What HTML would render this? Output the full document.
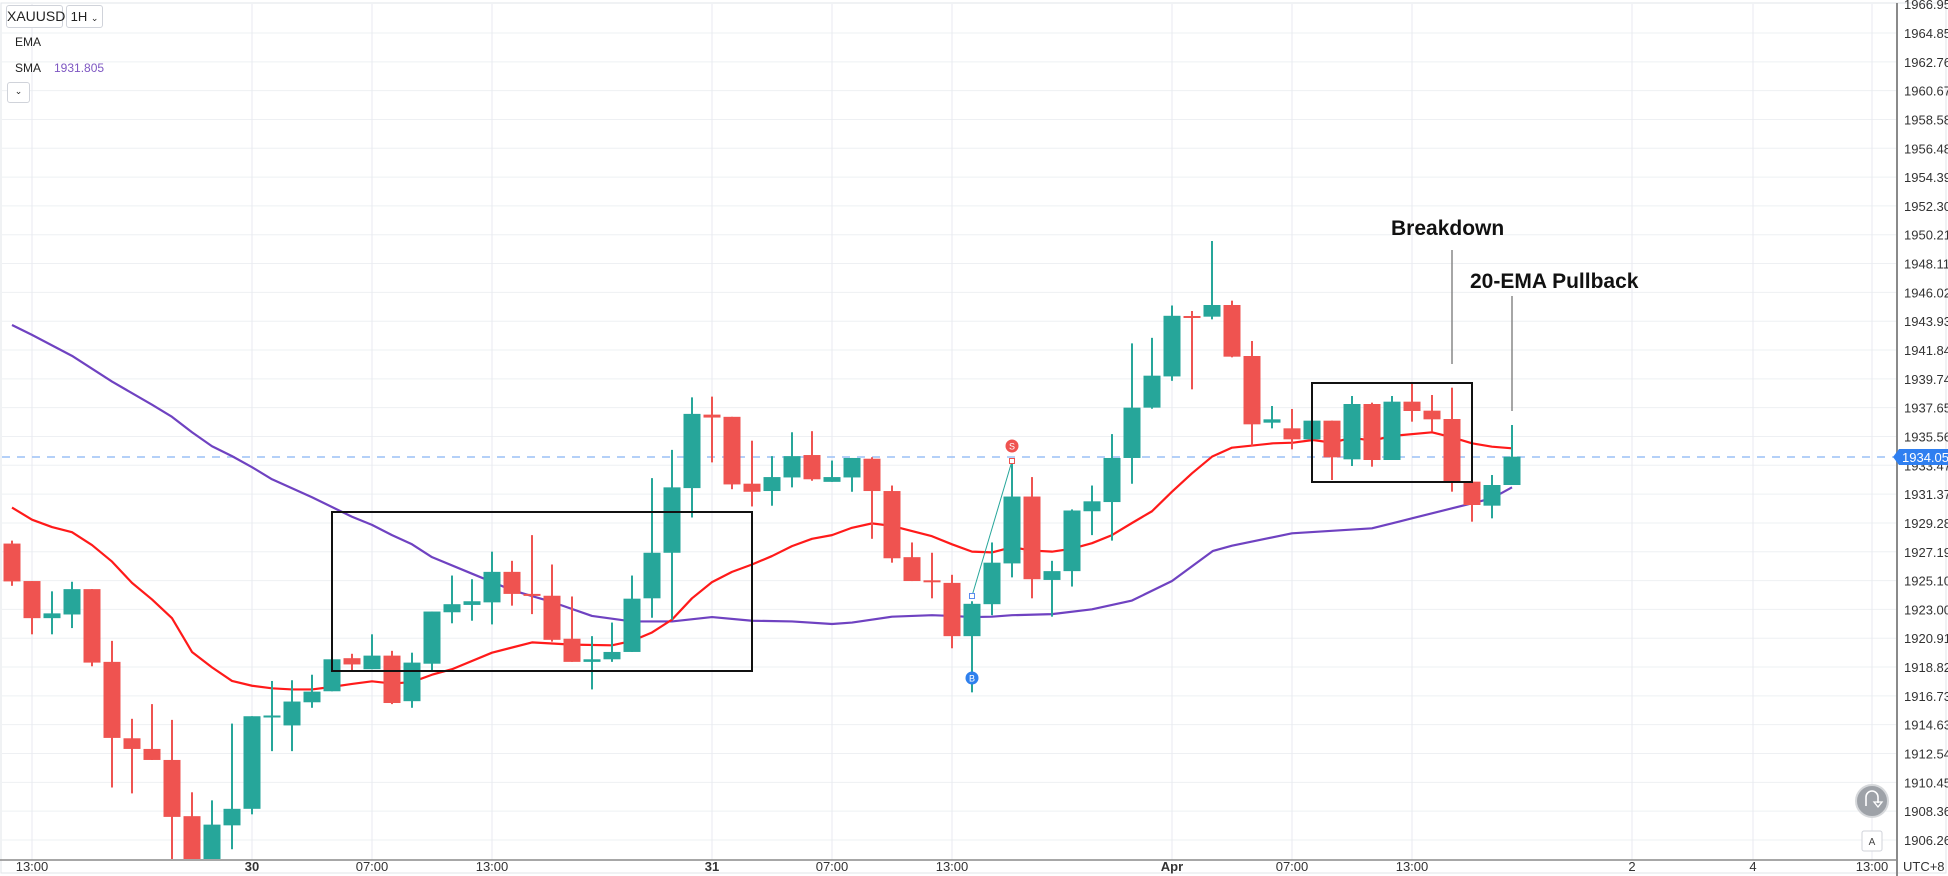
<!DOCTYPE html>
<html><head><meta charset="utf-8">
<style>
html,body{margin:0;padding:0;background:#fff;}
body{width:1948px;height:876px;overflow:hidden;position:relative;font-family:"Liberation Sans",Arial,sans-serif;}
svg{position:absolute;left:0;top:0;}
.tb{position:absolute;border:1px solid #d0d3da;border-radius:3px;background:#fff;font-size:13px;color:#222;box-sizing:border-box;}
</style></head>
<body>
<svg id="c" width="1948" height="876" xmlns="http://www.w3.org/2000/svg"></svg>
<div class="tb" style="left:6px;top:5px;width:57px;height:23px;line-height:21px;text-align:center;font-size:14px;">XAUUSD</div>
<div class="tb" style="left:66px;top:5px;width:37px;height:23px;line-height:21px;text-align:center;">1H <span style="font-size:9px">&#8964;</span></div>
<div style="position:absolute;left:15px;top:35px;font-size:12px;color:#222;">EMA</div>
<div style="position:absolute;left:15px;top:61px;font-size:12px;color:#222;">SMA</div>
<div style="position:absolute;left:54px;top:61px;font-size:12px;color:#7e57c2;">1931.805</div>
<div class="tb" style="left:7px;top:82px;width:23px;height:21px;line-height:17px;text-align:center;font-size:9px;">&#8964;</div>
<script>
const svg=document.getElementById('c');
let s='';
const f=1/2.722;
// grid
s+='<rect x="1" y="3" width="1945" height="870" fill="none" stroke="#e2e4ea"/>';
const labels=["1966.950","1964.857","1962.765","1960.672","1958.580","1956.487","1954.395","1952.302","1950.210","1948.117","1946.025","1943.932","1941.840","1939.747","1937.655","1935.562","1933.470","1931.377","1929.285","1927.192","1925.100","1923.007","1920.915","1918.822","1916.730","1914.637","1912.545","1910.452","1908.360","1906.267"];
for(let k=0;k<labels.length;k++){
 const y=33+(k-1)*28.82;
 if(y>6) s+=`<line x1="2" x2="1897" y1="${y}" y2="${y}" stroke="#eef0f3" stroke-width="1"/>`;
 s+=`<text x="1904" y="${y+5}" font-size="13" fill="#333">${labels[k]}</text>`;
}
const vx=[[32,"13:00",0],[252,"30",1],[372,"07:00",0],[492,"13:00",0],[712,"31",1],[832,"07:00",0],[952,"13:00",0],[1172,"Apr",1],[1292,"07:00",0],[1412,"13:00",0],[1632,"2",0],[1753,"4",0],[1872,"13:00",0]];
for(const [x,t,b] of vx){
 s+=`<line x1="${x}" x2="${x}" y1="4" y2="860" stroke="#e8eaf0" stroke-width="1"/>`;
 s+=`<text x="${x}" y="871" font-size="13" text-anchor="middle" fill="#333" ${b?'font-weight="bold"':''}>${t}</text>`;
}
// price line
s+='<line x1="2" x2="1897" y1="457" y2="457" stroke="#9cc0f5" stroke-width="1.5" stroke-dasharray="8,7"/>';
s+='<defs><clipPath id="cp"><rect x="0" y="4" width="1896" height="855"/></clipPath></defs><g clip-path="url(#cp)">';
function pl(pts,col,w){return `<polyline points="${pts.map(p=>p.join(',')).join(' ')}" fill="none" stroke="${col}" stroke-width="${w}" stroke-linejoin="round"/>`;}
// SMA
const z4=(a)=>a.map(p=>[p[0],300+p[1]*f]);
let sma=z4([[12,68],[32,95],[72,152],[112,222],[152,285],[172,318],[192,360],[212,398],[232,425],[252,455],[272,488],[312,537],[352,590],[372,612],[392,640]]);
sma=sma.concat(z4([[412,665],[432,700],[472,745],[512,790],[552,822],[592,860],[632,875],[672,875],[712,863],[752,873],[792,875],[832,882],[852,878],[892,862],[932,858],[952,860],[972,863],[992,862],[1012,858],[1052,855],[1092,842],[1132,818],[1172,765],[1213,683]]));
sma=sma.concat([[1232,180+1097/3],[1292,180+1060/3],[1372,180+1045/3],[1412,180+1015/3],[1452,180+985/3],[1492,180+955/3],[1512,180+922/3]]);
s+=pl(sma,'#6f42c1',2.2);
let ema=z4([[12,565],[32,598],[52,618],[72,632],[92,667],[112,712],[132,770],[152,815],[172,866],[192,958],[212,1000],[232,1037],[252,1050],[272,1057],[292,1060],[312,1060],[332,1053],[352,1045],[372,1038],[392,1044],[412,1040],[432,1020],[452,1005],[492,960],[532,932],[572,938],[612,940],[632,928],[652,905],[672,870],[692,812],[712,768],[732,740],[752,720],[772,697],[792,670],[812,650],[832,640],[852,620],[872,608],[892,615],[932,643],[952,665],[972,685],[992,687],[1012,673],[1032,682],[1052,685],[1072,677],[1092,662],[1112,640],[1132,607],[1152,575]]);
ema=ema.concat([[1172,180+935/3],[1192,180+880/3],[1212,180+830/3],[1232,180+803/3],[1273,180+790/3],[1293,180+788/3],[1313,180+780/3],[1332,180+788/3],[1352,180+773/3],[1372,180+782/3],[1392,180+768/3],[1432,180+757/3],[1452,180+772/3],[1472,180+790/3],[1492,180+800/3],[1512,180+805/3]]);
s+=pl(ema,'#ff1a1a',2.2);
// candles
const A=[
[663,766,655,778,'r'],[765,866,765,910,'r'],[853,866,793,910,'g'],[787,856,767,893,'g'],[787,987,787,997,'r'],[985,1192,928,1327,'r'],[1193,1222,1140,1343,'r'],[1222,1252,1100,1252,'r'],[1252,1407,1143,1600,'r'],[1405,1600,1340,1600,'r'],[1428,1600,1362,1600,'g'],[1385,1430,1153,1495,'g'],[1133,1385,1133,1400,'g'],[1131,1135,1037,1228,'g'],[1093,1158,1035,1228,'g'],[1066,1095,1020,1110,'g'],[978,1065,978,1065,'g'],[975,992,963,1012,'r'],[968,1005,910,1005,'g'],[968,1097,955,1100,'r'],[987,1092,960,1110,'g'],
[848,990,848,1008,'g'],[828,850,750,880,'g'],[820,830,760,873,'g'],[740,823,685,883,'g'],[740,800,710,832,'r'],[800,805,640,855,'r'],[805,925,720,930,'r'],[922,985,807,985,'r'],[978,985,915,1060,'g'],[958,978,878,985,'g'],[813,958,750,958,'g'],[688,812,485,865,'g'],[510,688,408,870,'g'],[310,512,265,592,'g'],[312,320,263,442,'r'],[318,502,318,515,'r'],[500,522,383,562,'r'],[482,520,425,560,'g'],[425,483,360,510,'g'],[422,488,357,492,'r'],
[482,495,437,495,'g'],[430,483,430,522,'g'],[432,520,428,650,'r'],[520,703,505,715,'r'],[700,765,660,765,'r'],[763,767,688,812,'r'],[770,915,748,948,'r'],[827,915,820,1068,'g'],[715,828,660,858,'g'],[535,717,435,755,'g'],[535,760,482,812,'r'],[738,762,710,862,'g'],[573,738,570,780,'g'],[548,575,505,640,'g'],[430,550,365,655,'g'],[293,430,118,500,'g'],[206,293,103,296,'g'],[43,208,15,220,'g']];
const B=[[408,412,393,628,'r'],[375,410,183,418,'g'],[375,530,362,532,'r'],[528,733,483,797,'r'],[718,728,678,745,'g'],[745,778,687,808,'r'],[722,778,722,778,'g'],[722,832,722,900,'r'],[672,838,648,858,'g'],[672,840,668,860,'r'],[665,840,648,840,'g'],[665,693,612,725,'r'],[692,718,645,755,'r'],[717,905,623,935,'r'],[905,975,905,1025,'r'],[915,977,885,1015,'g'],[830,915,735,915,'g']];
const C=A.map(c=>[300+c[0]*f,300+c[1]*f,300+c[2]*f,300+c[3]*f,c[4]]).concat(B.map(c=>[180+c[0]/3,180+c[1]/3,180+c[2]/3,180+c[3]/3,c[4]]));
C.forEach((c,i)=>{
 const x=12+20*i, col=c[4]=='g'?'#26a69a':'#ef5350';
 s+=`<line x1="${x}" x2="${x}" y1="${c[2]}" y2="${c[3]}" stroke="${col}" stroke-width="2"/>`;
 const h=Math.max(c[1]-c[0],2);
 s+=`<rect x="${x-8.5}" y="${c[0]}" width="17" height="${h}" fill="${col}"/>`;
});
s+='</g>';
// boxes
s+='<rect x="332" y="512" width="420" height="159" fill="none" stroke="#111" stroke-width="2"/>';
s+='<rect x="1312" y="383" width="160" height="99" fill="none" stroke="#111" stroke-width="2"/>';
// annotations
s+='<text x="1391" y="235" font-size="21" font-weight="bold" fill="#111">Breakdown</text>';
s+='<line x1="1452" x2="1452" y1="250" y2="364" stroke="#888" stroke-width="1.5"/>';
s+='<text x="1470" y="288" font-size="21" font-weight="bold" fill="#111">20-EMA Pullback</text>';
s+='<line x1="1512" x2="1512" y1="296" y2="411" stroke="#888" stroke-width="1.5"/>';
// S/B markers
s+='<line x1="972" y1="596" x2="1012" y2="461" stroke="#26a69a" stroke-width="1"/>';
s+='<rect x="969.5" y="593.5" width="5" height="5" fill="#fff" stroke="#5b8def"/>';
s+='<rect x="1009.5" y="458.5" width="5" height="5" fill="#fff" stroke="#ef5350"/>';
s+='<circle cx="1012" cy="446" r="6.5" fill="#ef5350"/><text x="1012" y="449.5" font-size="9" fill="#fff" text-anchor="middle">S</text>';
s+='<circle cx="972" cy="678" r="6.5" fill="#2f80ed"/><text x="972" y="681.5" font-size="9" fill="#fff" text-anchor="middle">B</text>';
// axes
s+='<line x1="1897" x2="1897" y1="3" y2="876" stroke="#8a8a8a" stroke-width="2"/>';
s+='<line x1="0" x2="1897" y1="860" y2="860" stroke="#8a8a8a" stroke-width="1.5"/>';
s+='<text x="1903" y="871" font-size="13" fill="#333">UTC+8</text>';
s+='<path d="M1893,457 L1899,449 L1948,449 L1948,465 L1899,465 Z" fill="#2f7ff0"/>';
s+='<text x="1902" y="462" font-size="13" fill="#fff">1934.058</text>';
// buttons
s+='<circle cx="1872" cy="801" r="16" fill="#9ea2a8" stroke="#d6d8db" stroke-width="2"/>';
s+='<path d="M1866,806 L1866,797 A6,6 0 0 1 1878,797 L1878,803" fill="none" stroke="#fff" stroke-width="1.6"/><path d="M1874,802 L1882,802 L1878,807 Z" fill="none" stroke="#fff" stroke-width="1.3"/>';
s+='<rect x="1862" y="831" width="20" height="20" rx="2" fill="#fff" stroke="#d0d3da"/><text x="1872" y="845" font-size="10" text-anchor="middle" fill="#444">A</text>';
svg.innerHTML=s;
</script>
</body></html>
